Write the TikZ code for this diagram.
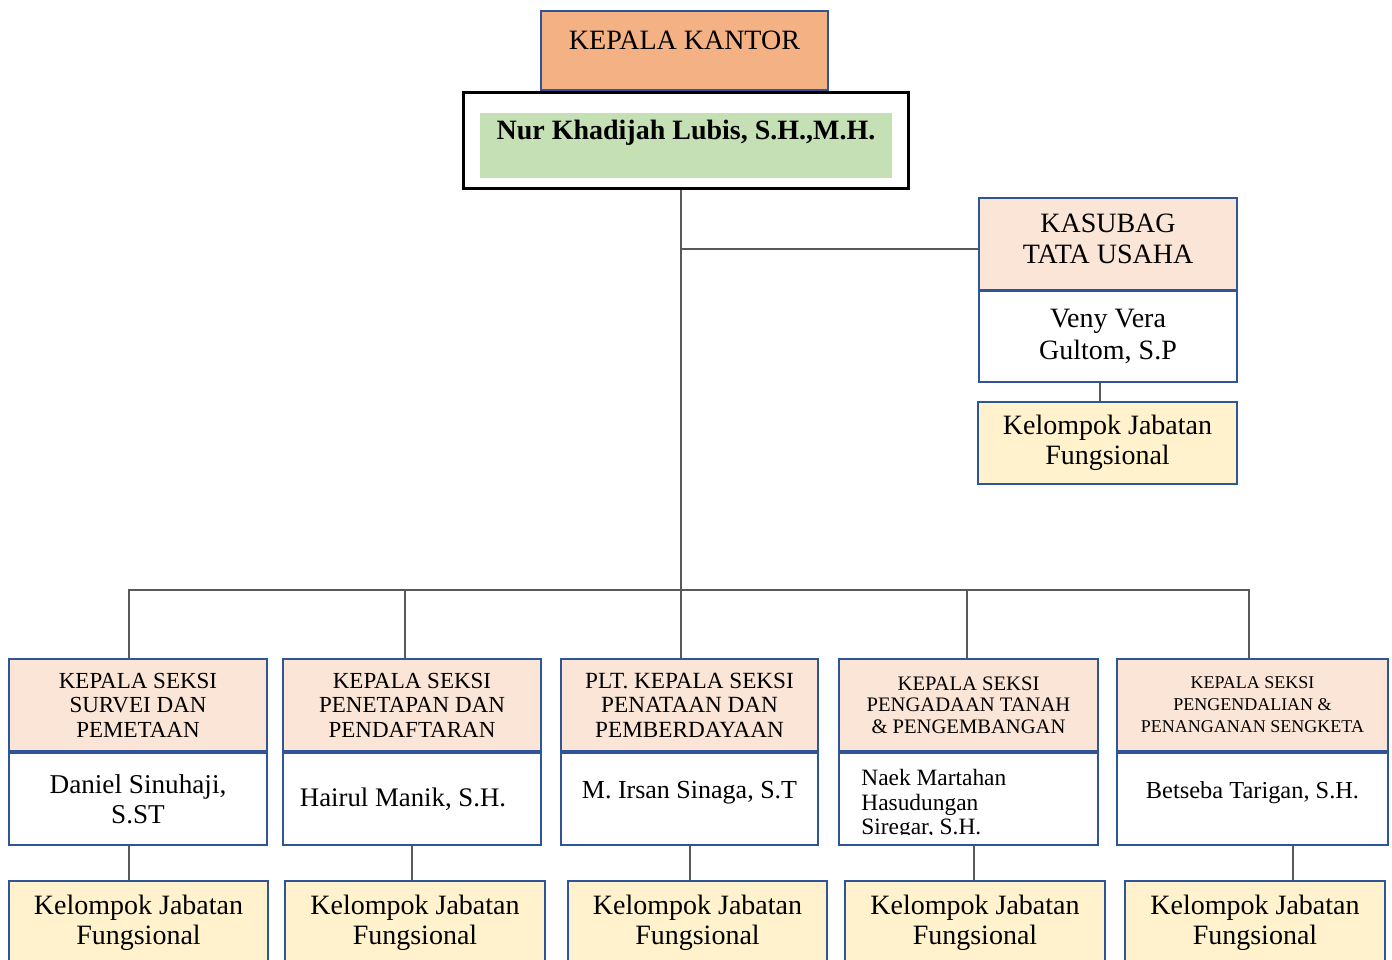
\documentclass[tikz,border=0pt]{standalone}
\usepackage{fontspec}
\setmainfont{Liberation Serif}
\usepackage{tikz}
\usetikzlibrary{positioning, calc}
\definecolor{myblue}{RGB}{47,85,151}
\definecolor{mygray}{RGB}{89,89,89}
\definecolor{hdrorange}{RGB}{244,177,131}
\definecolor{hdrpeach}{RGB}{251,229,214}
\definecolor{hdrgreen}{RGB}{197,224,180}
\definecolor{hdryellow}{RGB}{255,242,204}
\tikzset{
  box/.style={rectangle, draw=myblue, line width=1.2pt, align=center, inner sep=0pt},
  headbox/.style={box, fill=hdrpeach, minimum width=129pt, minimum height=46pt},
  namebox/.style={box, fill=white, minimum width=129pt, minimum height=46pt},
  groupbox/.style={box, fill=hdryellow, minimum width=130pt, minimum height=42pt,
    font=\fontsize{14}{15}\selectfont},
  conn/.style={line width=1pt, color=mygray}
}

\begin{document}
\begin{tikzpicture}[x=0.5pt, y=-0.5pt]
  \useasboundingbox (0,0) rectangle (1392,959);
  \clip (0,0) rectangle (1392,959);

  % Kepala kantor
  \node[box, fill=hdrorange, minimum width=143.5pt, minimum height=39.5pt,
    font=\fontsize{14}{16}\selectfont, text depth=10.5pt] (kantor) at (684.5,50.5) {KEPALA KANTOR};
  \node[rectangle, draw=black, fill=white, line width=1.5pt,
    minimum width=222.5pt, minimum height=48pt] (nama) at (685.5,140) {};
  \node[rectangle, fill=hdrgreen, minimum width=206pt, minimum height=32.5pt, inner sep=0pt,
    font=\fontsize{14}{16}\selectfont\bfseries, text height=9.3pt, text depth=15.5pt]
    (namabg) at (686,145.5) {Nur Khadijah Lubis, S.H.,M.H.};

  % Kasubag tata usaha
  \node[headbox, font=\fontsize{14}{15.5}\selectfont] (kasubag) at (1108,244) {KASUBAG\\TATA USAHA\\[-10.5pt]};
  \node[namebox, minimum height=45.5pt, font=\fontsize{14}{16}\selectfont] (veny) at (1108,336.5) {Veny Vera\\Gultom, S.P};
  \node[groupbox, minimum width=129.5pt, minimum height=41pt] (kjf0) at (1107.5,443) {Kelompok Jabatan\\Fungsional};

  % Kepala seksi
  \node[headbox, font=\fontsize{11.5}{12.25}\selectfont] (s1) at (138,705) {KEPALA SEKSI\\SURVEI DAN\\PEMETAAN};
  \node[headbox, font=\fontsize{11.5}{12.25}\selectfont] (s2) at (412,705) {KEPALA SEKSI\\PENETAPAN DAN\\PENDAFTARAN};
  \node[headbox, minimum width=128.5pt, font=\fontsize{11.6}{12.25}\selectfont] (s3) at (689.5,705) {PLT. KEPALA SEKSI\\PENATAAN DAN\\PEMBERDAYAAN};
  \node[headbox, minimum width=129.5pt, font=\fontsize{10.3}{10.75}\selectfont] (s4) at (968.5,705) {KEPALA SEKSI\\PENGADAAN TANAH\\\& PENGEMBANGAN};
  \node[headbox, minimum width=135.5pt, font=\fontsize{9}{11}\selectfont] (s5) at (1252.5,705) {KEPALA SEKSI\\PENGENDALIAN \&\\PENANGANAN SENGKETA};

  % Pejabat
  \node[namebox, font=\fontsize{13.6}{15}\selectfont] (n1) at (138,799) {Daniel Sinuhaji,\\S.ST};
  \node[namebox, font=\fontsize{13.4}{15}\selectfont] (n2) at (412,799) {Hairul Manik, S.H.\hspace*{9pt}};
  \node[namebox, minimum width=128.5pt, font=\fontsize{13}{15}\selectfont,
    text height=8.6pt, text depth=9pt] (n3) at (689.5,799) {M. Irsan Sinaga, S.T};
  \node[namebox, minimum width=129.5pt] (n4) at (968.5,799) {};
  \begin{scope}
    \clip ([yshift=6pt]n4.south west) rectangle (n4.north east);
    \node[anchor=north west, inner sep=0pt, align=left, font=\fontsize{11.7}{12.25}\selectfont]
      (naek) at (861,769) {Naek Martahan\\Hasudungan\\Siregar, S.H.};
  \end{scope}
  \node[namebox, minimum width=135.5pt, font=\fontsize{12.2}{15}\selectfont,
    text height=8pt, text depth=9pt] (n5) at (1252.5,799) {Betseba Tarigan, S.H.};

  % Kelompok jabatan fungsional
  \node[groupbox, minimum width=129.5pt] (g1) at (138.5,923) {Kelompok Jabatan\\Fungsional};
  \node[groupbox] (g2) at (415,923) {Kelompok Jabatan\\Fungsional};
  \node[groupbox, minimum width=129.5pt] (g3) at (697.5,923) {Kelompok Jabatan\\Fungsional};
  \node[groupbox] (g4) at (975,923) {Kelompok Jabatan\\Fungsional};
  \node[groupbox] (g5) at (1255,923) {Kelompok Jabatan\\Fungsional};

  % Garis
  \coordinate (bus) at (681,590);
  \coordinate (kb) at ([yshift=-2.5pt]kasubag.west);
  \draw[conn] (bus |- nama.south) -- (bus);
  \draw[conn] (kb -| bus) -- (kb);
  \draw[conn] ([xshift=-4.5pt]s1.north) |- (bus) -| ([xshift=-1.75pt]s5.north);
  \draw[conn] (bus) -- ([xshift=-4.25pt]s3.north);
  \draw[conn] ([xshift=-3.5pt]s2.north) -- ([xshift=-3.5pt]s2.north |- bus);
  \draw[conn] ([xshift=-0.75pt]s4.north) -- ([xshift=-0.75pt]s4.north |- bus);
  \draw[conn] ([xshift=-4pt]veny.south) -- ([xshift=-4pt]veny.south |- kjf0.north);

  \draw[conn] ([xshift=-4.5pt]n1.south) -- ([xshift=-4.5pt]n1.south |- g1.north);
  \draw[conn] (n2.south) -- (n2.south |- g2.north);
  \draw[conn] (n3.south) -- (n3.south |- g3.north);
  \draw[conn] ([xshift=2.75pt]n4.south) -- ([xshift=2.75pt]n4.south |- g4.north);
  \draw[conn] ([xshift=20.25pt]n5.south) -- ([xshift=20.25pt]n5.south |- g5.north);
\end{tikzpicture}
\end{document}
